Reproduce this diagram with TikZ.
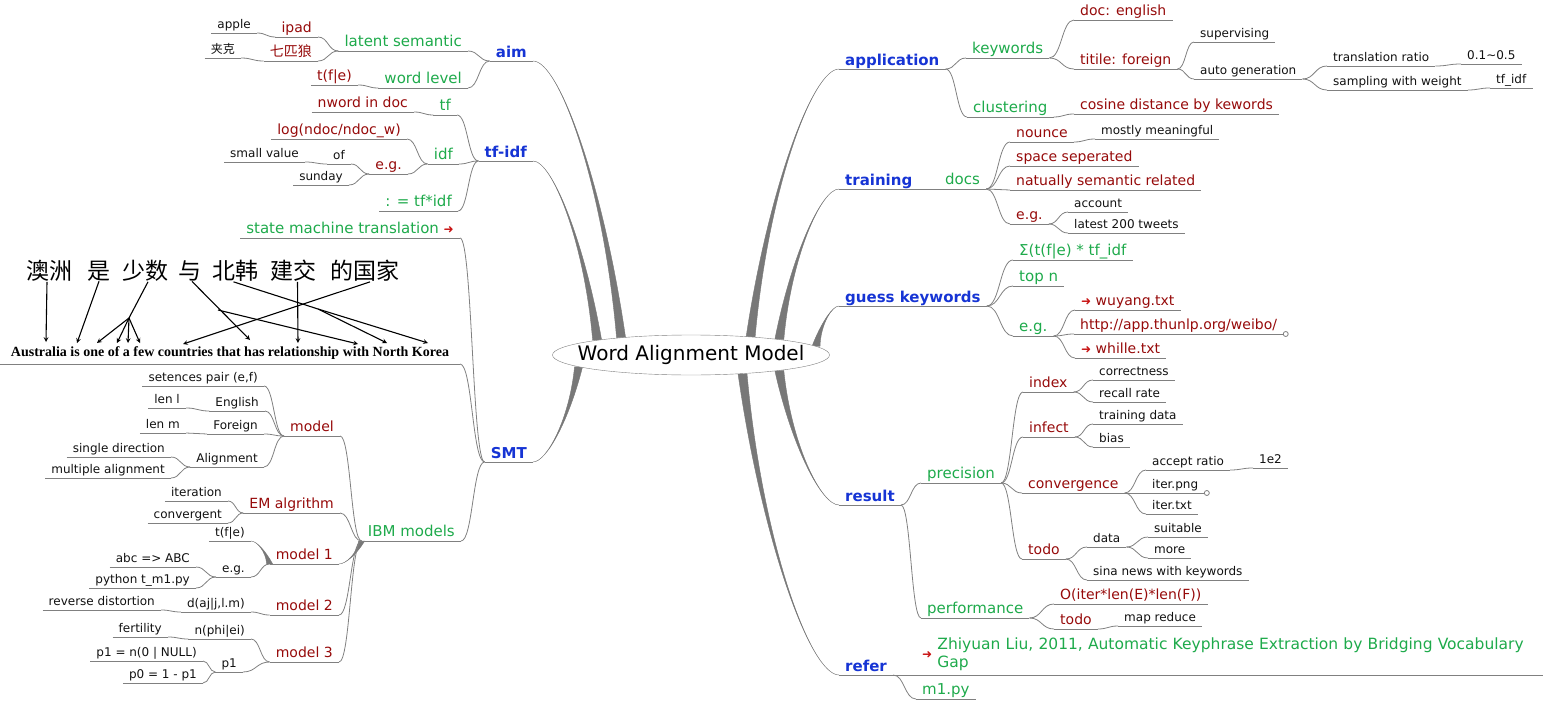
\documentclass[tikz,border=0pt]{standalone}
\usepackage{fontspec}
\setmainfont{DejaVu Sans}
\newfontfamily\cjkfont{Noto Sans CJK SC}
\newfontfamily\timesfont{Liberation Serif}
\usetikzlibrary{shapes.geometric,calc,backgrounds}

\definecolor{mmblue}{RGB}{22,52,212}
\definecolor{mmgreen}{RGB}{30,170,75}
\definecolor{mmred}{RGB}{150,10,10}
\definecolor{mmblack}{RGB}{17,17,17}
\definecolor{linkgray}{RGB}{128,128,128}
\definecolor{trunkgray}{RGB}{120,120,120}
\definecolor{arrowred}{RGB}{200,20,20}

\newcommand{\linkarrow}{{\fontsize{12}{12}\selectfont\color{arrowred}➜}}
% tronco afilado: ancla del padre, ancla del hijo, medio ancho
\newcommand{\trunk}[3]{%
  \fill[trunkfill] let \p1=(#1), \p2=(#2) in
    ({\x1-#3pt},\y1) .. controls ({\x1+0.2*(\x2-\x1)},{\y1+0.55*(\y2-\y1)}) and ({\x1+0.7*(\x2-\x1)},\y2) .. (\p2)
    .. controls ({\x1+0.7*(\x2-\x1)},\y2) and ({\x1+0.2*(\x2-\x1)},{\y1+0.55*(\y2-\y1)}) .. ({\x1+#3pt},\y1) -- cycle;}

\begin{document}
\begin{tikzpicture}[x=1pt, y=-1pt,
  underbar/.style={append after command={\pgfextra{\let\twignode\tikzlastnode}
    (\twignode.south west) edge[draw=linkgray, line width=.8pt] (\twignode.south east)}},
  twig/.style={inner xsep=6pt, inner ysep=1.5pt, text depth=3pt, underbar},
  topic/.style={twig, inner ysep=0pt, text=mmblue, font=\fontsize{15}{18}\selectfont\bfseries},
  subtopic/.style={twig, text=mmgreen, font=\fontsize{15}{18}\selectfont},
  detail/.style={twig, text=mmred, font=\fontsize{14}{17}\selectfont},
  note/.style={twig, text=mmblack, font=\fontsize{12}{14}\selectfont},
  rside/.style={anchor=south west},
  lside/.style={anchor=south east},
  branch/.style={draw=linkgray, line width=.8pt,
    to path={let \p1=(\tikztostart), \p2=(\tikztotarget) in
      .. controls ({(\x1+\x2)/2},\y1) and ({(\x1+\x2)/2},\y2) .. (\tikztotarget) \tikztonodes}},
  rootnode/.style={ellipse, draw=linkgray, fill=white, minimum width=277pt, minimum height=40pt, inner sep=0pt},
  rootfont/.style={font=\fontsize{20}{24}\selectfont, text=black},
  trunkfill/.style={fill=trunkgray, draw=trunkgray, line width=.4pt},
  zhword/.style={font=\cjkfont\fontsize{23}{23}\selectfont, inner sep=0pt},
  engword/.style={font=\timesfont\bfseries\fontsize{14}{14}\selectfont, inner sep=0pt},
  wordarrow/.style={-stealth, line width=1.1pt}]

  \useasboundingbox (0,0) rectangle (1543,701);

  % Nodo central
  \node[rootnode, label={[rootfont]center:Word Alignment Model}] (wam) at (691,355) {};

  % Rama derecha: application
  \node[topic, rside] (app) at (839,69) {application};
  \node[subtopic, rside] (keywords) at (966,58) {keywords};
  \node[detail, rside] (docen) at (1074,20) {doc: english};
  \node[detail, rside] (titfor) at (1074,69) {titile: foreign};
  \node[note, rside] (superv) at (1194,42) {supervising};
  \node[note, rside] (autogen) at (1194,79) {auto generation};
  \node[note, rside] (transratio) at (1327,66) {translation ratio};
  \node[note, rside] (ratioval) at (1461,64) {0.1\textasciitilde0.5};
  \node[note, rside] (sampling) at (1327,90) {sampling with weight};
  \node[note, rside] (tfidfw) at (1490,88) {tf\_idf};
  \node[subtopic, rside] (cluster) at (967,117) {clustering};
  \node[detail, rside] (cosine) at (1074,114) {cosine distance by kewords};

  % training
  \node[topic, rside] (train) at (839,189) {training};
  \node[subtopic, rside] (docs) at (939,189) {docs};
  \node[detail, rside] (nounce) at (1010,142) {nounce};
  \node[note, rside] (meaning) at (1095,139) {mostly meaningful};
  \node[detail, rside] (spacesep) at (1010,166) {space seperated};
  \node[detail, rside] (natual) at (1010,190) {natually semantic related};
  \node[detail, rside] (egtrain) at (1010,224) {e.g.};
  \node[note, rside] (account) at (1068,212) {account};
  \node[note, rside] (tweets) at (1068,233) {latest 200 tweets};

  % guess keywords
  \node[topic, rside] (guess) at (839,306) {guess keywords};
  \node[subtopic, rside] (sumtf) at (1013,260) {Σ(t(f|e) * tf\_idf};
  \node[subtopic, rside] (topn) at (1013,286) {top n};
  \node[subtopic, rside] (egguess) at (1013,336) {e.g.};
  \node[detail, rside] (wuyang) at (1075,310) {\linkarrow\ wuyang.txt};
  \node[detail, rside] (web) at (1074,334) {http://app.thunlp.org/weibo/};
  \node[detail, rside] (whille) at (1075,358) {\linkarrow\ whille.txt};

  % result
  \node[topic, rside] (result) at (839,505) {result};
  \node[subtopic, rside] (precision) at (921,483) {precision};
  \node[detail, rside] (index) at (1023,392) {index};
  \node[note, rside] (correct) at (1093,380) {correctness};
  \node[note, rside] (recall) at (1093,402) {recall rate};
  \node[detail, rside] (infect) at (1023,437) {infect};
  \node[note, rside] (trdata) at (1093,424) {training data};
  \node[note, rside] (bias) at (1093,447) {bias};
  \node[detail, rside] (converge) at (1022,493) {convergence};
  \node[note, rside] (accept) at (1146,470) {accept ratio};
  \node[note, rside] (acceptval) at (1253,468) {1e2};
  \node[note, rside] (iterpng) at (1146,493) {iter.png};
  \node[note, rside] (itertxt) at (1146,514) {iter.txt};
  \node[detail, rside] (todoprec) at (1022,559) {todo};
  \node[note, rside] (data) at (1087,547) {data};
  \node[note, rside] (suitable) at (1148,537) {suitable};
  \node[note, rside] (more) at (1148,558) {more};
  \node[note, rside] (sina) at (1087,580) {sina news with keywords};
  \node[subtopic, rside] (perf) at (921,618) {performance};
  \node[detail, rside] (bigo) at (1054,604) {O(iter*len(E)*len(F))};
  \node[detail, rside] (todoperf) at (1054,629) {todo};
  \node[note, rside] (mapred) at (1118,626) {map reduce};

  % refer
  \node[topic, rside] (refer) at (839,675) {refer};
  \node[rside, text=mmgreen, font=\fontsize{15.5}{18}\selectfont, inner xsep=6pt, inner ysep=1.5pt,
        text width=615pt, align=left, underbar] (paper) at (916,675)
    {\noindent\linkarrow\ \begin{tabular}{@{}l@{}}Zhiyuan Liu, 2011, Automatic Keyphrase Extraction by Bridging Vocabulary\\Gap\end{tabular}};
  \node[subtopic, rside] (m1py) at (916,699) {m1.py};

  % Rama izquierda: aim
  \node[topic, lside] (aim) at (533,61) {aim};
  \node[subtopic, lside] (latent) at (468,51) {latent semantic};
  \node[detail, lside] (ipad) at (318,37) {ipad};
  \node[note, lside] (apple) at (257,33) {apple};
  \node[detail, lside] (septwolves) at (318,61) {\cjkfont 七匹狼};
  \node[note, lside] (jacket) at (241,58) {\cjkfont 夹克};
  \node[subtopic, lside] (wordlvl) at (468,88) {word level};
  \node[detail, lside] (tfeaim) at (358,85) {t(f|e)};

  % tf-idf
  \node[topic, lside] (tfidf) at (533,161) {tf-idf};
  \node[subtopic, lside] (tf) at (457,115) {tf};
  \node[detail, lside] (nword) at (414,112) {nword in doc};
  \node[subtopic, lside] (idf) at (459,164) {idf};
  \node[detail, lside] (logdoc) at (407,139) {log(ndoc/ndoc\_w)};
  \node[detail, lside] (egidf) at (408,174) {e.g.};
  \node[note, lside] (of) at (351,164) {of};
  \node[note, lside] (small) at (305,162) {small value};
  \node[note, lside] (sunday) at (349,185) {sunday};
  \node[subtopic, lside] (tfmul) at (458,211) {: = tf*idf};

  % SMT
  \node[topic, lside] (smt) at (533,462) {SMT};
  \node[subtopic, lside] (smtrans) at (460,238) {state machine translation \linkarrow};
  \node[lside, minimum width=460pt, minimum height=118pt, inner sep=0pt, underbar] (sample) at (460,364) {};
  \node[subtopic, lside] (ibm) at (461,541) {IBM models};
  \node[detail, lside] (model) at (340,436) {model};
  \node[note, lside] (pair) at (264,386) {setences pair (e,f)};
  \node[note, lside] (english) at (265,411) {English};
  \node[note, lside] (lenl) at (186,408) {len l};
  \node[note, lside] (foreign) at (264,434) {Foreign};
  \node[note, lside] (lenm) at (186,433) {len m};
  \node[note, lside] (alignmt) at (264,467) {Alignment};
  \node[note, lside] (single) at (171,457) {single direction};
  \node[note, lside] (multiple) at (171,478) {multiple alignment};
  \node[detail, lside] (em) at (340,513) {EM algrithm};
  \node[note, lside] (iteration) at (228,501) {iteration};
  \node[note, lside] (convergent) at (228,523) {convergent};
  \node[detail, lside] (mone) at (339,564) {model 1};
  \node[note, lside] (tfemone) at (251,541) {t(f|e)};
  \node[note, lside] (egmone) at (251,577) {e.g.};
  \node[note, lside] (abc) at (196,567) {abc => ABC};
  \node[note, lside] (pyrun) at (196,588) {python t\_m1.py};
  \node[detail, lside] (mtwo) at (339,615) {model 2};
  \node[note, lside] (distort) at (251,612) {d(aj|j,l.m)};
  \node[note, lside] (revdist) at (161,610) {reverse distortion};
  \node[detail, lside] (mthree) at (339,662) {model 3};
  \node[note, lside] (nphi) at (251,639) {n(phi|ei)};
  \node[note, lside] (fertility) at (168,637) {fertility};
  \node[note, lside] (pone) at (243,672) {p1};
  \node[note, lside] (ponedef) at (203,661) {p1 = n(0 | NULL)};
  \node[note, lside] (pzero) at (203,683) {p0 = 1 - p1};

  % Conexiones a la derecha
  \foreach \a/\b in {app/keywords, app/cluster, keywords/docen, keywords/titfor, titfor/superv,
      titfor/autogen, autogen/transratio, autogen/sampling, transratio/ratioval, sampling/tfidfw,
      cluster/cosine, train/docs, docs/nounce, docs/spacesep, docs/natual, docs/egtrain,
      nounce/meaning, egtrain/account, egtrain/tweets, guess/sumtf, guess/topn, guess/egguess,
      egguess/wuyang, egguess/web, egguess/whille, result/precision, result/perf,
      precision/index, precision/infect, precision/converge, precision/todoprec,
      index/correct, index/recall, infect/trdata, infect/bias, converge/accept,
      converge/iterpng, converge/itertxt, accept/acceptval, todoprec/data, todoprec/sina,
      data/suitable, data/more, perf/bigo, perf/todoperf, todoperf/mapred,
      refer/paper, refer/m1py}
    \draw[branch] (\a.south east) to (\b.south west);

  % Conexiones a la izquierda
  \foreach \a/\b in {aim/latent, aim/wordlvl, latent/ipad, latent/septwolves, ipad/apple,
      septwolves/jacket, wordlvl/tfeaim, tfidf/tf, tfidf/idf, tfidf/tfmul, tf/nword,
      idf/logdoc, idf/egidf, egidf/of, egidf/sunday, of/small, smt/smtrans, smt/sample,
      smt/ibm, ibm/model, ibm/em, ibm/mtwo, ibm/mthree, model/pair, model/english,
      model/foreign, model/alignmt, english/lenl, foreign/lenm, alignmt/single,
      alignmt/multiple, em/iteration, em/convergent, mone/egmone, egmone/abc,
      egmone/pyrun, mtwo/distort, distort/revdist, mthree/nphi, mthree/pone,
      nphi/fertility, pone/ponedef, pone/pzero}
    \draw[branch] (\a.south west) to (\b.south east);

  % Troncos gruesos
  \begin{scope}[on background layer]
    \trunk{wam.166}{aim.south east}{4.5}
    \trunk{wam.171}{tfidf.south east}{4.5}
    \trunk{wam.186}{smt.south east}{4}
    \trunk{wam.17}{app.south west}{4.5}
    \trunk{wam.10}{train.south west}{4.5}
    \trunk{wam.4}{guess.south west}{4}
    \trunk{wam.-10}{result.south west}{4.5}
    \trunk{wam.-20}{refer.south west}{4.5}
    \trunk{ibm.south west}{mone.south east}{3}
    \trunk{mone.south west}{tfemone.south east}{3}
  \end{scope}

  % Nodos plegados
  \draw[linkgray, fill=white, line width=.8pt] ([xshift=2.5pt]web.south east) circle (2.5pt);
  \draw[linkgray, fill=white, line width=.8pt] ([xshift=2.5pt]iterpng.south east) circle (2.5pt);

  % Imagen de alineamiento
  \node[zhword] (zAus) at (49,271) {澳洲};
  \node[zhword] (zIs) at (99,271) {是};
  \node[zhword] (zFew) at (145.5,271) {少数};
  \node[zhword] (zWith) at (190,271) {与};
  \node[zhword] (zNK) at (235.5,271) {北韩};
  \node[zhword] (zRel) at (293.5,271) {建交};
  \node[zhword] (zCountry) at (365,271) {的国家};
  \node[engword, anchor=base] (eng) at (230,356) {Australia is one of a few countries that has relationship with North Korea};

  \coordinate (wAus) at (46,342);
  \coordinate (wIs) at (77,343);
  \coordinate (wOne) at (97,343);
  \coordinate (wOf) at (117,343);
  \coordinate (wA) at (128,343);
  \coordinate (wFew) at (140,343);
  \coordinate (wCountries) at (183,344);
  \coordinate (wHas) at (250,340);
  \coordinate (wRel) at (298,343);
  \coordinate (wWith) at (358,344);
  \coordinate (wNorth) at (387,343);
  \coordinate (wKorea) at (428,343);
  \coordinate (jFew) at (129,318);
  \coordinate (jWith) at (218,310);
  \coordinate (jNK) at (318,309);

  \draw[wordarrow] ([xshift=-2pt]zAus.south) -- (wAus);
  \draw[wordarrow] (zIs.south) -- (wIs);
  \draw[line width=1.1pt] ([xshift=2.5pt]zFew.south) -- (jFew);
  \foreach \w in {wOne, wOf, wA, wFew}
    \draw[wordarrow] (jFew) -- (\w);
  \draw[wordarrow] ([xshift=2pt]zWith.south) -- (wHas);
  \draw[wordarrow] (jWith) -- (wWith);
  \draw[wordarrow] ([xshift=-2pt]zNK.south) -- (jNK) -- (wKorea);
  \draw[wordarrow] (jNK) -- (wNorth);
  \draw[wordarrow] ([xshift=4pt]zRel.south) -- (wRel);
  \draw[wordarrow] ([xshift=5pt]zCountry.south) -- (wCountries);
\end{tikzpicture}
\end{document}
